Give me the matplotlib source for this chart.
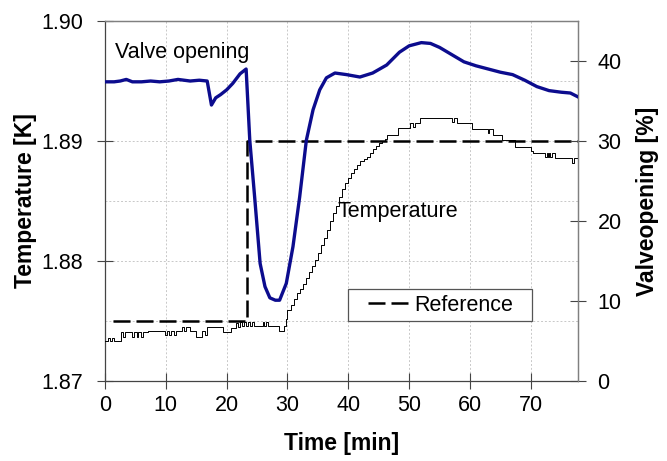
"""
Temperature control step: helium bath temperature and valve opening vs time.
Two y axes (temperature left, valve opening right), Excel-like styling.
"""
import matplotlib
matplotlib.use("Agg")
import matplotlib.pyplot as plt
from matplotlib.lines import Line2D
from matplotlib.patches import Rectangle
from matplotlib.ticker import MultipleLocator, FormatStrFormatter

plt.rcParams["font.family"] = ["Liberation Sans", "DejaVu Sans"]

# ---- Data ---------------------------------------------------------------
# temperature trace (K), drawn as steps
TEMP_TIME = [
    0.0, 0.5, 0.8, 1.2, 1.5, 2.6, 3.0, 3.3, 4.5, 4.8, 5.2, 5.5, 5.9, 6.2,
    7.0, 9.9, 10.2, 10.5, 10.8, 11.3, 11.6, 12.6, 13.0, 13.3, 14.0, 15.0,
    15.9, 16.5, 16.8, 19.4, 20.7, 21.6, 21.9, 22.2, 22.5, 22.8, 23.2, 23.5,
    23.8, 24.2, 24.5, 25.9, 26.2, 26.5, 26.8, 28.6, 29.4,
    29.7, 30.0, 30.5, 31.0, 31.5, 32.0, 32.5, 33.0, 33.5, 34.0, 34.5, 35.0,
    35.5, 36.0, 36.5, 37.0, 37.5, 38.0, 38.5, 39.0, 39.5, 40.0, 40.5, 41.0,
    41.5, 42.0, 42.5, 43.0, 43.5, 44.0, 44.5, 45.0, 45.5, 46.0, 46.4,
    48.2, 50.2, 50.6, 50.9, 51.7, 57.1, 57.4, 57.8, 60.3, 62.9, 63.2, 63.8,
    65.2, 67.4, 70.0, 70.3, 72.4, 72.6, 72.8, 73.0, 73.2, 73.4, 74.0,
    76.8, 77.1, 77.8,
]
TEMP_K = [
    1.8733, 1.8736, 1.8733, 1.8736, 1.8733, 1.8741, 1.8737, 1.8741, 1.8737,
    1.8741, 1.8737, 1.8741, 1.8737, 1.8741, 1.8742, 1.8738, 1.8742, 1.8738,
    1.8742, 1.8738, 1.8742, 1.8745, 1.8742, 1.8745, 1.8742, 1.8737, 1.8742,
    1.8738, 1.8745, 1.8741, 1.8744, 1.8748, 1.8745, 1.8749, 1.8746, 1.8749,
    1.8746, 1.8749, 1.8746, 1.8749, 1.8746, 1.8749, 1.8746, 1.8749, 1.8746,
    1.8742, 1.8746,
    1.8752, 1.8759, 1.8763, 1.8768, 1.8773, 1.8777, 1.8781, 1.8786, 1.8791,
    1.8796, 1.8801, 1.8807, 1.8813, 1.8819, 1.8826, 1.8833, 1.8840, 1.8846,
    1.8853, 1.8860, 1.8865, 1.8869, 1.8873, 1.8877, 1.8880, 1.8883, 1.8885,
    1.8887, 1.8890, 1.8893, 1.8896, 1.8898, 1.8900, 1.8902, 1.8905,
    1.8911, 1.8915, 1.8912, 1.8915, 1.8919, 1.8916, 1.8919, 1.8915, 1.8910,
    1.8907, 1.8910, 1.8905, 1.8901, 1.8895, 1.8892, 1.8890, 1.8887, 1.8890,
    1.8887, 1.8890, 1.8887, 1.8890, 1.8886, 1.8882, 1.8886, 1.8886,
]

# valve opening (%)
VALVE_TIME = [
    0.0, 1.5, 2.5, 3.5, 4.5, 6.0, 7.5, 9.0, 10.5, 12.0, 13.0, 14.0, 15.5,
    16.8, 17.5, 18.2, 19.0, 20.0, 21.0, 22.2, 23.2, 23.8, 24.6, 25.5, 26.3,
    27.1, 28.0, 28.7, 29.8, 30.9, 32.0, 33.1, 34.2, 35.3, 36.4, 37.8, 39.7,
    41.9, 44.0, 46.3, 48.4, 50.0, 52.0, 53.5, 55.0, 57.0, 59.0, 61.0, 63.0,
    65.0, 67.0, 69.0, 71.0, 73.0, 75.0, 76.5, 77.8,
]
VALVE_PCT = [
    37.4, 37.4, 37.5, 37.7, 37.4, 37.4, 37.5, 37.4, 37.5, 37.7, 37.6, 37.5,
    37.6, 37.5, 34.5, 35.4, 35.8, 36.4, 37.2, 38.4, 39.0, 30.1, 23.0, 14.7,
    11.8, 10.4, 10.1, 10.1, 12.2, 16.8, 23.0, 30.1, 33.9, 36.4, 37.9, 38.5,
    38.3, 38.0, 38.5, 39.5, 41.1, 41.9, 42.3, 42.2, 41.7, 40.8, 39.9, 39.4,
    39.0, 38.6, 38.3, 37.6, 36.8, 36.3, 36.1, 36.0, 35.5,
]

# temperature set point (K)
REF_TIME = [1.3, 23.35, 23.35, 77.8]
REF_K = [1.875, 1.875, 1.890, 1.890]

X_TICKS = [0, 10, 20, 30, 40, 50, 60, 70]
T_TICKS = [1.87, 1.88, 1.89, 1.90]
V_TICKS = [0, 10, 20, 30, 40]

# ---- Figure -------------------------------------------------------------
FS = 15.5
fig = plt.figure(figsize=(6.67, 4.61), dpi=100)
ax = fig.add_axes([0.1574, 0.1735, 0.7096, 0.7809])
ax2 = ax.twinx()

ax.plot(TEMP_TIME, TEMP_K, drawstyle="steps-post", color="black",
        linewidth=0.7, zorder=3)
ax.plot(REF_TIME, REF_K, color="black", linewidth=1.8,
        linestyle=(0, (6.8, 2.4)), zorder=3)
ax2.plot(VALVE_TIME, VALVE_PCT, color="#0c0c8e", linewidth=2.4,
         solid_joinstyle="round", zorder=3)

# ---- Axes ---------------------------------------------------------------
ax.set_xlim(0, 77.8)
ax.set_ylim(1.87, 1.90)
ax2.set_ylim(0, 45)
ax.set_xticks(X_TICKS)
ax.set_yticks(T_TICKS)
ax.yaxis.set_minor_locator(MultipleLocator(0.005))
ax.yaxis.set_major_formatter(FormatStrFormatter("%.2f"))
ax2.set_yticks(V_TICKS)

ax.tick_params(axis="both", which="major", direction="inout", length=11.5,
               width=0.8, color="#444444", labelsize=FS)
ax.tick_params(axis="y", which="major", pad=10)
ax.tick_params(axis="x", which="major", pad=4)
ax.tick_params(axis="y", which="minor", length=0)
ax2.tick_params(axis="y", direction="inout", length=11.5, width=0.8,
                color="#444444", labelsize=FS, pad=8)

ax.grid(True, axis="y", which="both", linestyle=(0, (2, 2)),
        linewidth=0.7, color="#c8c8c8", zorder=0)
ax.grid(True, axis="x", which="major", linestyle=(0, (2, 2)),
        linewidth=0.7, color="#c8c8c8", zorder=0)
ax.set_axisbelow(True)

for s in ["left", "bottom"]:
    ax.spines[s].set_color("#444444")
    ax.spines[s].set_linewidth(0.9)
for a in (ax, ax2):
    for s in ["top", "right"]:
        a.spines[s].set_color("#808080")
        a.spines[s].set_linewidth(0.9)
ax2.spines["left"].set_visible(False)
ax2.spines["bottom"].set_visible(False)

ax.set_xlabel("Time [min]", fontsize=16.5, fontweight="bold")
ax.set_ylabel("Temperature [K]", fontsize=16.5, fontweight="bold")
ax2.set_ylabel("Valveopening [%]", fontsize=16.5, fontweight="bold")
ax.xaxis.set_label_coords(0.5, -0.142)
ax.yaxis.set_label_coords(-0.144, 0.5)
ax2.yaxis.set_label_coords(1.122, 0.5)

# ---- Annotations ---------------------------------------------------------
ax.text(1.6, 1.8974, "Valve opening", fontsize=FS, va="center", ha="left",
        zorder=5)
ax.text(38.2, 1.8841, "Temperature", fontsize=FS, va="center", ha="left",
        zorder=5)

# legend box (Excel style: wide white box, square corners)
ax.add_patch(Rectangle((0.5134, 0.1667), 0.3888, 0.0889,
                       transform=ax.transAxes, facecolor="white",
                       edgecolor="#555555", linewidth=0.9, zorder=4))
handle = Line2D([], [], color="black", linewidth=1.8,
                linestyle=(0, (6.8, 2.4)))
leg = ax.legend([handle], ["Reference"], loc="center",
                bbox_to_anchor=(0.709, 0.211), frameon=False, fontsize=FS,
                handlelength=1.9, handletextpad=0.25, borderpad=0.1)
leg.set_zorder(6)

fig.savefig("out.png", dpi=100)
